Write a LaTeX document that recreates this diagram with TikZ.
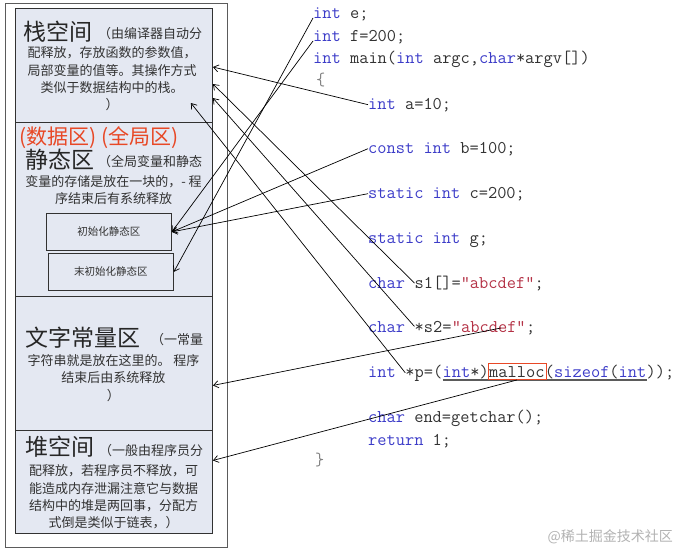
\documentclass[tikz,border=0pt]{standalone}
\usepackage{fontspec}
\newfontfamily\cjk{Noto Sans CJK SC}
\usetikzlibrary{arrows.meta}
\definecolor{panelfill}{RGB}{228,232,242}
\definecolor{kwblue}{RGB}{60,60,200}
\definecolor{strred}{RGB}{180,50,70}
\definecolor{tagred}{RGB}{232,72,38}
\definecolor{ink}{RGB}{50,50,50}
\newcommand\kw[1]{\textcolor{kwblue}{#1}}
\newcommand\strlit[1]{\textcolor{strred}{#1}}
\begin{document}
\begin{tikzpicture}[x=1pt,y=-1pt,
  panel/.style={draw=ink,line width=0.9pt,fill=panelfill,anchor=north west,minimum width=197pt,inner sep=0pt},
  area box/.style={draw=ink,line width=0.8pt,fill=panelfill,anchor=north west,minimum width=125pt,minimum height=37pt,inner sep=0pt,font=\cjk\fontsize{10.5}{12}\selectfont,text=ink},
  title/.style={anchor=west,inner sep=0pt,font=\cjk\fontsize{23}{26}\selectfont,text=black!85},
  note/.style={inner sep=0pt,align=center,font=\cjk\fontsize{13}{17.3}\selectfont,text=ink},
  code/.style={anchor=base west,inner sep=0pt,font=\ttfamily\fontsize{17.9}{20}\selectfont,text=ink},
  arr/.style={-{Straight Barb[length=5pt,width=7pt]},line width=0.7pt}]
  \useasboundingbox (0,0) rectangle (677,549);

  % memory areas
  \draw[draw=ink!80,line width=1pt] (5,3) rectangle (227,547);
  \node[panel,minimum height=114pt] (stack) at (15,8) {};
  \node[panel,minimum height=174pt] (static) at (15,122) {};
  \node[panel,minimum height=134pt] (lit) at (15,296) {};
  \node[panel,minimum height=103pt] (heap) at (15,430) {};
  \node[area box] (init) at (46,213) {初始化静态区};
  \node[area box] (uninit) at (48,253) {末初始化静态区};

  \node[title] (stackt) at (23,32) {栈空间};
  \node[note,anchor=west] at (98,34) {（由编译器自动分};
  \node[note] at (112,79) {配释放，存放函数的参数值，\\局部变量的值等。其操作方式\\类似于数据结构中的栈。\\）};

  \node[title,text=tagred,font=\cjk\fontsize{21}{24}\selectfont] (tag) at (19,138) {(数据区) (全局区)};
  \node[title] (statict) at (25,160) {静态区};
  \node[note,anchor=west] at (98,162) {（全局变量和静态};
  \node[note] at (113.5,190) {变量的存储是放在一块的，- 程\\序结束后有系统释放};

  \node[title] (litt) at (25,338) {文字常量区};
  \node[note,anchor=west] at (151,340) {（一常量};
  \node[note] at (113.5,378) {字符串就是放在这里的。 程序\\结束后由系统释放\\）};

  \node[title] (heapt) at (25,447) {堆空间};
  \node[note,anchor=west] at (99,451) {（一般由程序员分};
  \node[note] at (113.5,497) {配释放，若程序员不释放，可\\能造成内存泄漏注意它与数据\\结构中的堆是两回事，分配方\\式倒是类似于链表，）};

  % code
  \node[code] (e) at (313,18) {\kw{int} e;};
  \node[code] (f) at (313,41) {\kw{int} f=200;};
  \node[code] (main) at (313,63) {\kw{int} main(\kw{int} argc,\kw{char}*argv[])};
  \node[code,text=gray] (open) at (316,85) {\{};
  \node[code] (a) at (368,109) {\kw{int} a=10;};
  \node[code] (b) at (368,153) {\kw{const} \kw{int} b=100;};
  \node[code] (c) at (368,198) {\kw{static} \kw{int} c=200;};
  \node[code] (g) at (368,243) {\kw{static} \kw{int} g;};
  \node[code] (s1) at (368,288) {\kw{char}};
  \node[code] (s1v) at ([xshift=9.2pt]s1.base east) {s1[]=\strlit{"abcdef"};};
  \node[code] (s2) at (368,332) {\kw{char}};
  \node[code] (s2v) at ([xshift=9.2pt]s2.base east) {*s2=};
  \node[code] (s2str) at (s2v.base east) {\strlit{"abcdef"}};
  \node[code] (s2end) at (s2str.base east) {;};
  \node[code] (p) at (368,377) {\kw{int}};
  \node[code] (pv) at ([xshift=9.2pt]p.base east) {*p=(};
  \node[code] (pcast) at (pv.base east) {\kw{int}*)};
  \node[code] (malloc) at (pcast.base east) {malloc};
  \node[code] (psize) at (malloc.base east) {(\kw{sizeof}(\kw{int}};
  \node[code] (pend) at (psize.base east) {));};
  \node[code] (end) at (368,422) {\kw{char} end=getchar();};
  \node[code] (ret) at (368,445) {\kw{return} 1;};
  \node[code,text=gray] (close) at (315,465) {\}};

  \draw[draw=ink!80,line width=1.5pt] ([yshift=-3pt]pcast.base west) -- ([yshift=-3pt]psize.base east);
  \draw[draw=tagred,line width=0.8pt] ([shift={(-1pt,-2pt)}]malloc.base west) rectangle ([shift={(2pt,14pt)}]malloc.base east);

  % arrows
  \path[arr]
  (e.base west) edge (uninit.east)
  (f.base west) edge (init.east)
  (b.west) edge (init.east)
  (c.west) edge (init.east);

  \path[arr]
  (a.west) edge ([yshift=-59pt]stack.north east)
  (s1v.west) edge ([yshift=-76pt]stack.north east)
  (s2v.west) edge ([yshift=-90pt]stack.north east)
  (pv.west) edge ([shift={(-22pt,-95pt)}]stack.north east);

  \path[arr]
  ([shift={(-25pt,4pt)}]s2str.base east) edge ([yshift=-22pt]lit.east)
  ([yshift=-3pt]malloc.base) edge ([yshift=21.5pt]heap.east);

  \node[anchor=east,inner sep=0pt,font=\cjk\fontsize{14}{16}\selectfont,text=black!30] (wm) at (673,537) {@稀土掘金技术社区};
\end{tikzpicture}
\end{document}
